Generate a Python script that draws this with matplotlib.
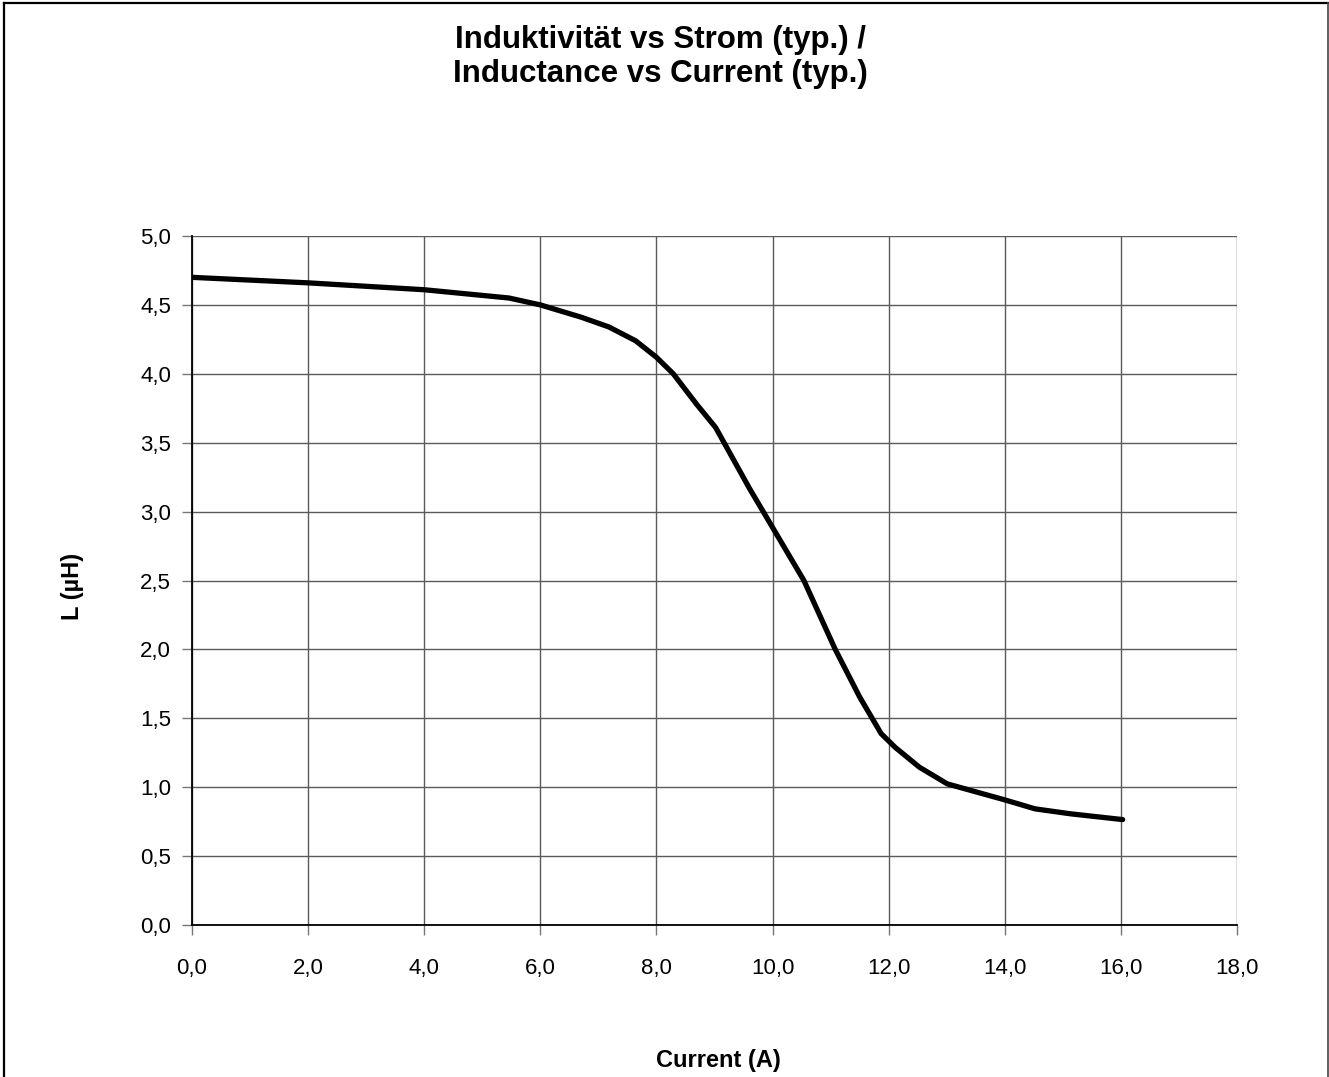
import matplotlib
matplotlib.use("Agg")
import matplotlib.pyplot as plt
from matplotlib.lines import Line2D
from matplotlib.ticker import FuncFormatter

plt.rcParams['font.family'] = ['Liberation Sans', 'DejaVu Sans']

# values
current_a = [0.0, 2.0, 4.0, 5.46, 6.0, 6.71, 7.18, 7.64, 8.0, 8.29, 8.69, 9.02,
             9.6, 9.93, 10.54, 11.08, 11.5, 11.87, 12.11, 12.53,
             13.01, 14.0, 14.52, 15.13, 16.03]
inductance_uh = [4.70, 4.66, 4.61, 4.55, 4.50, 4.41, 4.34, 4.24, 4.12, 4.0, 3.78, 3.61,
                 3.17, 2.935, 2.50, 2.0, 1.655, 1.389, 1.29, 1.145,
                 1.024, 0.908, 0.843, 0.807, 0.765]

x_ticks = [0, 2, 4, 6, 8, 10, 12, 14, 16, 18]
y_ticks = [0, 0.5, 1.0, 1.5, 2.0, 2.5, 3.0, 3.5, 4.0, 4.5, 5.0]

W, H = 1329, 1077
fig = plt.figure(figsize=(W / 100, H / 100), dpi=100)
ax = fig.add_axes([192 / W, 1 - 925 / H, (1237 - 192) / W, (925 - 236) / H])

ax.plot(current_a, inductance_uh, color='black', lw=3.8, solid_capstyle='round',
        solid_joinstyle='round', zorder=3)

ax.set_xlim(0, 18)
ax.set_ylim(0, 5)
ax.set_xticks(x_ticks)
ax.set_yticks(y_ticks)
comma = FuncFormatter(lambda v, p: f"{v:.1f}".replace('.', ','))
ax.xaxis.set_major_formatter(comma)
ax.yaxis.set_major_formatter(comma)
ax.tick_params(labelsize=16, length=7, width=1, color='#777777', labelcolor='black')
ax.tick_params(axis='x', pad=17)
ax.tick_params(axis='y', pad=8)
ax.grid(True, color='#5a5a5a', lw=1)
ax.set_axisbelow(True)
for s in ['top', 'right']:
    ax.spines[s].set_visible(False)
for s in ['left', 'bottom']:
    ax.spines[s].set_color('black')
    ax.spines[s].set_linewidth(1.3)

fig.text(660 / W, 1 - 57 / H, "Induktivität vs Strom (typ.) /\nInductance vs Current (typ.)",
         ha='center', va='center', fontsize=22.5, fontweight='bold', linespacing=1.2)
fig.text(718 / W, 1 - 1061 / H, "Current (A)", ha='center', va='center',
         fontsize=17, fontweight='bold')
fig.text(72 / W, 1 - 586 / H, "L (µH)", ha='center', va='center', rotation=90,
         fontsize=17, fontweight='bold')

# outer frame (no bottom edge in the reference)
fig.add_artist(Line2D([4 / W, 4 / W], [0, 1 - 3 / H], color='black', lw=1.6))
fig.add_artist(Line2D([4 / W, 1327.5 / W], [1 - 3 / H, 1 - 3 / H], color='black', lw=1.6))
fig.add_artist(Line2D([1327.5 / W, 1327.5 / W], [0, 1 - 3 / H], color='#444444', lw=1.2))

fig.savefig("out.png", dpi=100, facecolor='white')
